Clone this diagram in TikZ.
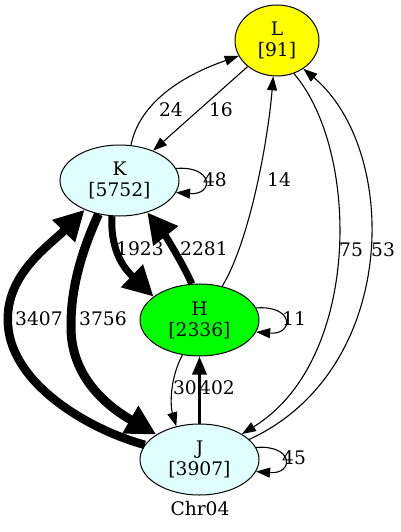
\documentclass[tikz,border=0pt]{standalone}
\usepackage{fontspec}
\setmainfont{DejaVu Serif}
\usetikzlibrary{arrows.meta,shapes.geometric}
\definecolor{lcyan}{HTML}{E0FFFF}
\definecolor{gvgreen}{HTML}{00FF00}
\definecolor{gvyellow}{HTML}{FFFF00}
\begin{document}
\begin{tikzpicture}[x=1pt,y=-1pt,
  every node/.style={font=\fontsize{18.67}{21}\selectfont},
  gnode/.style={draw,line width=1pt,ellipse,minimum width=119pt,minimum height=71pt,align=center,inner sep=0pt},
  lbl/.style={inner sep=0pt},
  thinedge/.style={line width=1.1pt,-{Triangle[length=14pt,width=10pt]}},
  midedge/.style={line width=3.4pt,-{Triangle[length=18pt,width=14pt]}},
  thickedge/.style={line width=#1,-{Triangle[length=30pt,width=30pt]}},
]
\useasboundingbox (0,0) rectangle (401,532);

% nodes
\node[gnode,fill=gvyellow,minimum width=84pt] (L) at (277,40.5) {L\\{}[91]};
\node[gnode,fill=lcyan] (K) at (119.5,180.5) {K\\{}[5752]};
\node[gnode,fill=gvgreen,minimum height=72pt] (H) at (199.5,320) {H\\{}[2336]};
\node[gnode,fill=lcyan] (J) at (199.5,459.5) {J\\{}[3907]};
\node[lbl] (chr) at (200,509) {Chr04};

% coordinates for long curves
\coordinate (c1) at (8,325);
\coordinate (c2) at (71,325);

% edges
\draw[thinedge] (K.72) .. controls (138,110) and (170,80) .. (L.202);
\draw[thinedge] (L) -- (K);
\draw[thinedge] (K.12) .. controls +(38,-3) and +(38,3) .. (K.-12);
\draw[thickedge=7pt] (K.258) .. controls (110,255) and (128,272) .. (H.153);
\draw[thickedge=7pt] (H.102) .. controls (182,262) and (165,235) .. (K.311);
\draw[thinedge] (H.56) .. controls (250,240) and (268,140) .. (L.264);
\draw[thinedge] (L.297) .. controls (360,150) and (362,360) .. (J.31);
\draw[thinedge] (J.22) .. controls (400,370) and (400,150) .. (L.313);
\draw[thickedge=9pt] (K.238) .. controls (80,255) and (71,290) .. (c2)
   .. controls (70,375) and (105,405) .. (J.150);
\draw[thickedge=8.5pt] (J.165) .. controls (90,430) and (12,385) .. (c1)
   .. controls (4,275) and (50,245) .. (K.220);
\draw[thinedge] (H.12) .. controls +(38,-3) and +(38,3) .. (H.-12);
\draw[thinedge] (H.244) .. controls (170,378) and (170,405) .. (J.125);
\draw[midedge] (J) -- (H);
\draw[thinedge] (J.12) .. controls +(38,-3) and +(38,3) .. (J.-12);

% edge labels
\node[lbl] (l24) at (171,110) {24};
\node[lbl] (l16) at (221,110) {16};
\node[lbl] (l48) at (215,180) {48};
\node[lbl] (l14) at (279,180) {14};
\node[lbl] (l1923) at (140,249) {1923};
\node[lbl] (l2281) at (204,249) {2281};
\node[lbl] (l75) at (351,250) {75};
\node[lbl] (l53) at (383,250) {53};
\node[lbl] (l3407) at (39,319) {3407};
\node[lbl] (l3756) at (103,319) {3756};
\node[lbl] (l11) at (294,319) {11};
\node[lbl] (l30) at (185,388) {30};
\node[lbl] (l402) at (217,388) {402};
\node[lbl] (l45) at (294,458) {45};
\end{tikzpicture}
\end{document}
